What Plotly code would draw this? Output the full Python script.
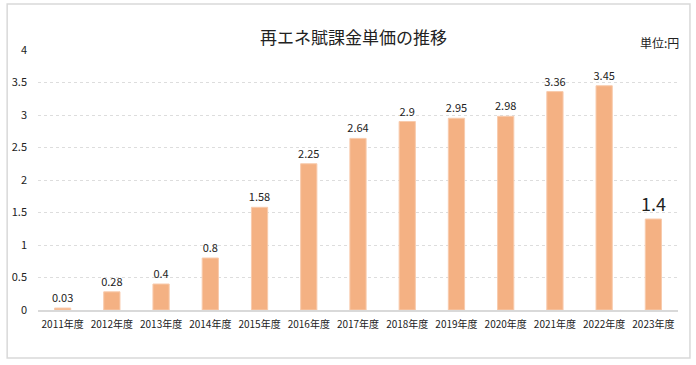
import plotly.graph_objects as go

categories = ["2011年度", "2012年度", "2013年度", "2014年度", "2015年度", "2016年度",
              "2017年度", "2018年度", "2019年度", "2020年度", "2021年度", "2022年度", "2023年度"]
values = [0.03, 0.28, 0.4, 0.8, 1.58, 2.25, 2.64, 2.9, 2.95, 2.98, 3.36, 3.45, 1.4]
labels = ["0.03", "0.28", "0.4", "0.8", "1.58", "2.25", "2.64", "2.9", "2.95", "2.98", "3.36", "3.45", "1.4"]
y_ticks = [0, 0.5, 1, 1.5, 2, 2.5, 3, 3.5, 4]

FONT = "Noto Sans CJK JP, sans-serif"
label_sizes = [11] * (len(values) - 1) + [18]

fig = go.Figure(go.Bar(
    x=categories, y=values, text=labels, textposition="outside",
    constraintext="none",
    textfont=dict(size=label_sizes, color="#222222", family=FONT),
    marker=dict(color="#F4B183", line=dict(color="#F8CBAD", width=1)),
    width=0.33, cliponaxis=False,
))

L, R, T, B = 35, 18, 50, 55
W, H = 696, 365
pw, ph = W - L - R, H - T - B

def px(x):
    return (x - L) / pw

def py(y):
    return (H - B - y) / ph

fig.add_shape(type="rect", xref="paper", yref="paper",
              x0=px(4), x1=px(690), y0=py(358), y1=py(4),
              line=dict(color="#D9D9D9", width=1.5), fillcolor="rgba(0,0,0,0)", layer="below")

fig.add_annotation(text="再エネ賦課金単価の推移", xref="paper", yref="paper",
                   x=px(352), y=py(37), showarrow=False, xanchor="center", yanchor="middle",
                   font=dict(size=17, color="#222222", family=FONT))
fig.add_annotation(text="単位:円", xref="paper", yref="paper",
                   x=px(681), y=py(42), showarrow=False, xanchor="right", yanchor="middle",
                   font=dict(size=12, color="#222222", family=FONT))

fig.update_layout(
    width=W, height=H, margin=dict(l=L, r=R, t=T, b=B),
    paper_bgcolor="white", plot_bgcolor="white", showlegend=False,
    font=dict(family=FONT, color="#222222"),
    xaxis=dict(showgrid=False, showline=True, linecolor="#D9D9D9", linewidth=1.5,
               ticks="", tickfont=dict(size=10), tickangle=0, ticklabelstandoff=4),
    yaxis=dict(range=[0, 4], tickvals=y_ticks, ticktext=[str(t) for t in y_ticks],
               showgrid=True, gridcolor="#DDDDDD", griddash="dot", gridwidth=0.8,
               zeroline=False, tickfont=dict(size=11), ticks="", ticklabelstandoff=10),
)

fig.write_html("out.html", config={"displayModeBar": False},
               post_script="document.body.style.margin='0';document.body.style.overflow='hidden';")
